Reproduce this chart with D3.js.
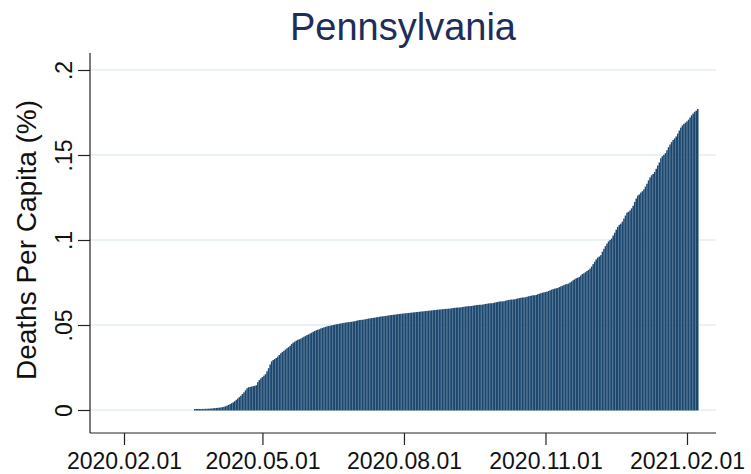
<!DOCTYPE html>
<html>
<head>
<meta charset="utf-8">
<script src="https://cdn.jsdelivr.net/npm/d3@7"></script>
<style>
  body { margin: 0; background: #fff; }
  text { font-family: "Liberation Sans", Arial, sans-serif; }
</style>
</head>
<body>
<div id="chart"></div>
<script>
// first bar is this day, one bar per day after that
const firstDay = '2020-03-18';

// cumulative deaths per capita (%)
const deathsPerCapita = [
  // Mar 18 - 31
  .00001, .00001, .00001, .00002, .00002, .00005, .00005, .00009, .00013, .00017, .00027, .00030, .00038, .00049,
  // Apr
  .0006, .0007, .0008, .0009, .0011, .0013, .0016, .0020, .0024, .0029, .0034, .0039, .0046, .0054, .0062,
  .0070, .0078, .0088, .0098, .0110, .0122, .0128, .0130, .0132, .0134, .0136, .0140, .0158, .0170, .0180,
  // May
  .0188, .0196, .0205, .0222, .0240, .0262, .0280, .0288, .0294, .0300, .0308, .0318, .0328, .0336, .0342, .0350,
  .0358, .0364, .0372, .0382, .0390, .0396, .0402, .0407, .0410, .0414, .0420, .0425, .0430, .0435, .0439,
  // Jun
  .0444, .0449, .0454, .0459, .0463, .0466, .0469, .0474, .0477, .0480, .0483, .0486, .0488, .0490, .0492,
  .0494, .0496, .0498, .0500, .0502, .0503, .0505, .0507, .0508, .0510, .0511, .0512, .0513, .0515, .0516,
  // Jul
  .0519, .0521, .0523, .0524, .0525, .0526, .0528, .0530, .0532, .0533, .0535, .0536, .0537, .0539, .0541, .0542,
  .0544, .0545, .0546, .0547, .0549, .0550, .0552, .0553, .0554, .0555, .0556, .0558, .0559, .0560, .0561,
  // Aug
  .0562, .0563, .0564, .0565, .0566, .0567, .0568, .0569, .0570, .0571, .0572, .0573, .0574, .0575, .0576, .0577,
  .0578, .0579, .0580, .0581, .0582, .0583, .0584, .0585, .0586, .0587, .0588, .0589, .0589, .0590, .0591,
  // Sep
  .0592, .0594, .0595, .0596, .0597, .0597, .0598, .0600, .0601, .0603, .0604, .0605, .0605, .0606, .0608,
  .0609, .0611, .0612, .0613, .0613, .0614, .0616, .0618, .0619, .0621, .0622, .0622, .0623, .0626, .0628,
  // Oct
  .0630, .0632, .0633, .0633, .0634, .0637, .0639, .0641, .0643, .0644, .0644, .0645, .0648, .0650, .0652, .0654,
  .0656, .0656, .0657, .0660, .0663, .0665, .0667, .0669, .0669, .0671, .0675, .0678, .0681, .0684, .0686,
  // Nov
  .0688, .0690, .0694, .0698, .0702, .0705, .0708, .0710, .0712, .0717, .0721, .0725, .0729, .0733, .0735,
  .0738, .0744, .0750, .0757, .0763, .0769, .0772, .0776, .0785, .0794, .0798, .0805, .0812, .0818, .0826,
  // Dec
  .0838, .0852, .0866, .0880, .0891, .0897, .0905, .0925, .0942, .0958, .0973, .0986, .0994, .1003, .1020, .1037,
  .1055, .1071, .1083, .1090, .1102, .1120, .1138, .1155, .1160, .1168, .1180, .1196, .1218, .1238, .1255,
  // Jan
  .1262, .1273, .1281, .1292, .1308, .1325, .1345, .1362, .1375, .1383, .1395, .1413, .1432, .1450, .1475, .1487,
  .1495, .1505, .1522, .1540, .1556, .1570, .1582, .1592, .1603, .1620, .1638, .1655, .1668, .1677, .1684,
  // Feb 1 - 8
  .1692, .1702, .1715, .1728, .1738, .1748, .1755, .1765
];

const yTicks = [0, 0.05, 0.1, 0.15, 0.2];
const yTickLabels = ['0', '.05', '.1', '.15', '.2'];
const xTicks = ['2020-02-01', '2020-05-01', '2020-08-01', '2020-11-01', '2021-02-01'];
const xTickLabels = ['2020.02.01', '2020.05.01', '2020.08.01', '2020.11.01', '2021.02.01'];

const W = 751;
const H = 474;
const parse = d3.utcParse('%Y-%m-%d');
const start = parse(firstDay);
const data = deathsPerCapita.map((v, i) => ({ date: d3.utcDay.offset(start, i), v }));

const svg = d3.select('#chart')
  .append('svg')
  .attr('width', W)
  .attr('height', H);

// plot frame
const left = 90;
const right = 716;
const axisY = 433;

const x = d3.scaleUtc()
  .domain([parse('2020-02-01'), parse('2021-02-01')])
  .range([124, 687]);
const y = d3.scaleLinear()
  .domain([0, 0.2])
  .range([410, 70]);

// grid
svg.selectAll('.grid')
  .data(yTicks)
  .enter()
  .append('line')
  .attr('class', 'grid')
  .attr('x1', left)
  .attr('x2', right)
  .attr('y1', (d) => y(d))
  .attr('y2', (d) => y(d))
  .attr('stroke', '#e4eef0')
  .attr('stroke-width', 1.6);

// bars, one per day
const dayW = x(d3.utcDay.offset(start, 1)) - x(start);
svg.selectAll('.bar')
  .data(data)
  .enter()
  .append('rect')
  .attr('class', 'bar')
  .attr('x', (d) => x(d.date) - dayW / 2)
  .attr('width', dayW)
  .attr('y', (d) => y(d.v) - 1)
  .attr('height', (d) => y(0) - y(d.v) + 1.5)
  .attr('fill', '#1c4870');

// y axis
const yAxis = svg.append('g')
  .attr('transform', `translate(${left},0)`)
  .call(d3.axisLeft(y)
    .tickValues(yTicks)
    .tickFormat((d, i) => yTickLabels[i])
    .tickSize(12));
yAxis.select('.domain').remove();
yAxis.selectAll('line').attr('stroke', '#222').attr('stroke-width', 1.2);
yAxis.selectAll('text')
  .attr('x', null)
  .attr('dy', null)
  .attr('text-anchor', 'middle')
  .attr('transform', 'translate(-18,0) rotate(-90)')
  .attr('font-size', 23)
  .attr('font-family', '"Liberation Sans", Arial, sans-serif')
  .attr('fill', '#111');
svg.append('line')
  .attr('x1', left).attr('x2', left)
  .attr('y1', 53).attr('y2', axisY)
  .attr('stroke', '#222')
  .attr('stroke-width', 1.2);

// x axis
const xAxis = svg.append('g')
  .attr('transform', `translate(0,${axisY})`)
  .call(d3.axisBottom(x)
    .tickValues(xTicks.map(parse))
    .tickFormat((d, i) => xTickLabels[i])
    .tickSize(12)
    .tickPadding(8));
xAxis.select('.domain').remove();
xAxis.selectAll('line').attr('stroke', '#222').attr('stroke-width', 1.2);
xAxis.selectAll('text')
  .attr('font-size', 23)
  .attr('font-family', '"Liberation Sans", Arial, sans-serif')
  .attr('fill', '#111');
svg.append('line')
  .attr('x1', left).attr('x2', right)
  .attr('y1', axisY).attr('y2', axisY)
  .attr('stroke', '#222')
  .attr('stroke-width', 1.2);

// titles
svg.append('text')
  .attr('x', 403)
  .attr('y', 40)
  .attr('text-anchor', 'middle')
  .attr('font-size', 38)
  .attr('fill', '#1e2d5a')
  .text('Pennsylvania');

svg.append('text')
  .attr('transform', 'translate(36,240) rotate(-90)')
  .attr('text-anchor', 'middle')
  .attr('font-size', 28)
  .attr('fill', '#111')
  .text('Deaths Per Capita (%)');
</script>
</body>
</html>
